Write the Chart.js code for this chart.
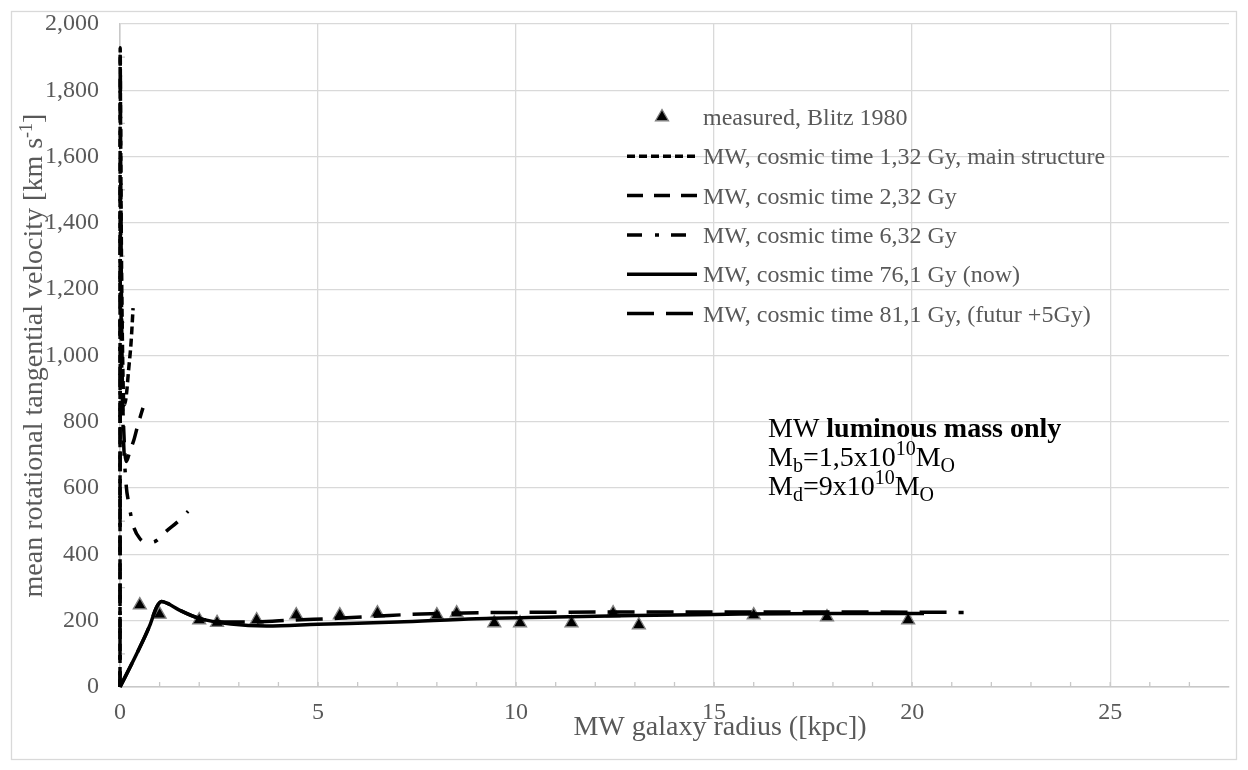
<!DOCTYPE html>
<html>
<head>
<meta charset="utf-8">
<script src="https://cdn.jsdelivr.net/npm/chart.js@4.4.1/dist/chart.umd.min.js"></script>
<style>
    html, body { margin: 0; padding: 0; background: #fff; }
    canvas { display: block; }
</style>
</head>
<body>
<canvas id="rotChart" width="1248" height="770"></canvas>
<script>
// Series names (legend order)
const seriesNames = [
    'measured, Blitz 1980',
    'MW, cosmic time 1,32 Gy, main structure',
    'MW, cosmic time 2,32 Gy',
    'MW, cosmic time 6,32 Gy',
    'MW, cosmic time 76,1 Gy (now)',
    'MW, cosmic time 81,1 Gy, (futur +5Gy)'
];

// measured points (kpc, km/s)
const measuredR = [0.5, 1.0, 2.0, 2.45, 3.45, 4.45, 5.55, 6.5, 8.0, 8.5, 9.45, 10.1, 11.4, 12.45, 13.1, 16.0, 17.85, 19.9];
const measuredV = [247, 219, 202, 194, 202, 217, 217, 223, 217, 223, 193, 193, 193, 223, 187, 217, 211, 202];

// model curves
const t132R = [0, 0.004, 0.012, 0.03, 0.06, 0.1, 0.15, 0.22, 0.28, 0.33];
const t132V = [0, 1928, 1750, 1400, 1050, 850, 870, 960, 1040, 1143];

const t232R = [0, 0.006, 0.02, 0.05, 0.1, 0.16, 0.25, 0.35, 0.45, 0.58];
const t232V = [0, 1900, 1500, 1000, 760, 680, 712, 745, 790, 842];

const t632R = [0, 0.01, 0.03, 0.07, 0.15, 0.22, 0.33, 0.5, 0.7, 0.9, 1.14, 1.47, 1.72];
const t632V = [0, 1500, 1100, 820, 618, 555, 489, 448, 436, 440, 467, 500, 530];

const nowR = [0, 0.4, 0.75, 0.92, 1.05, 1.2, 1.5, 2.0, 2.8, 3.7, 5.0, 7.0, 9.0, 11.0, 13.0, 15.0, 18.0, 20.3];
const nowV = [0, 95, 185, 240, 258, 252, 232, 207, 190, 184, 189, 196, 206, 211, 216, 219, 222, 222];

const futR = [0, 0.4, 0.75, 0.92, 1.05, 1.2, 1.5, 2.0, 2.5, 3.3, 4.4, 5.6, 6.8, 8.1, 10, 13, 16, 19, 21.3];
const futV = [0, 95, 185, 240, 258, 252, 232, 207, 197, 196, 202, 208, 216, 222, 225, 226, 226, 226, 225];

// axis ticks
const xTickStep = 5;
const yTickStep = 200;

const FONT = "'Liberation Serif', 'Times New Roman', serif";
const GREY_TEXT = '#595959';

const pts = (xs, ys) => xs.map((x, i) => ({ x: x, y: ys[i] }));

function lineSet(label, xs, ys, dash) {
    return {
        label: label,
        data: pts(xs, ys),
        borderColor: '#000',
        backgroundColor: '#000',
        borderWidth: 3.5,
        borderDash: dash,
        pointRadius: 0,
        cubicInterpolationMode: 'monotone',
        fill: false,
        clip: 5,
        order: 0
    };
}

function richText(ctx, x, y, parts, align) {
    let w = 0;
    parts.forEach(p => {
        ctx.font = (p[2] ? 'bold ' : '') + p[1] + 'px ' + FONT;
        w += ctx.measureText(p[0]).width;
    });
    let cx = align === 'center' ? x - w / 2 : x;
    parts.forEach(p => {
        ctx.font = (p[2] ? 'bold ' : '') + p[1] + 'px ' + FONT;
        ctx.fillText(p[0], cx, y + (p[3] || 0));
        cx += ctx.measureText(p[0]).width;
    });
}

const overlay = {
    id: 'overlay',
    beforeDraw(chart) {
        const c = chart.ctx;
        c.save();
        c.strokeStyle = '#d9d9d9';
        c.lineWidth = 1.3;
        c.strokeRect(11.5, 11.5, 1225, 748);
        c.restore();
    },
    beforeDatasetsDraw(chart) {
        // minor ticks inside the plot
        const c = chart.ctx;
        const xs = chart.scales.x, ys = chart.scales.y;
        c.save();
        c.strokeStyle = '#c8c8c8';
        c.lineWidth = 1.3;
        c.beginPath();
        for (let v = 1; v < xs.max; v++) {
            const px = xs.getPixelForValue(v);
            c.moveTo(px, ys.bottom);
            c.lineTo(px, ys.bottom - 5);
        }
        for (let v = 100; v < ys.max; v += 200) {
            const py = ys.getPixelForValue(v);
            c.moveTo(xs.left, py);
            c.lineTo(xs.left + 5, py);
        }
        c.stroke();
        c.restore();
    },
    afterDraw(chart) {
        const c = chart.ctx;
        const area = chart.chartArea;
        c.save();

        // axis titles
        c.fillStyle = GREY_TEXT;
        c.textBaseline = 'alphabetic';
        richText(c, 720, 735, [['MW galaxy radius ([kpc])', 28]], 'center');
        c.save();
        c.translate(42, (area.top + area.bottom) / 2);
        c.rotate(-Math.PI / 2);
        richText(c, 0, 0, [
            ['mean rotational tangential velocity [km s', 28],
            ['-1', 18, false, -10],
            [']', 28]
        ], 'center');
        c.restore();

        // legend
        const ds = chart.data.datasets;
        for (let i = 0; i < ds.length; i++) {
            const y = 117 + i * 39.3;
            if (i === 0) {
                c.beginPath();
                c.moveTo(662, y - 7.5);
                c.lineTo(668.5, y + 3.75);
                c.lineTo(655.5, y + 3.75);
                c.closePath();
                c.fillStyle = '#000';
                c.fill();
                c.strokeStyle = '#7f7f7f';
                c.lineWidth = 1.3;
                c.stroke();
            } else {
                c.beginPath();
                c.setLineDash(ds[i].borderDash || []);
                c.strokeStyle = '#000';
                c.lineWidth = 3.5;
                c.moveTo(627, y);
                c.lineTo(697, y);
                c.stroke();
                c.setLineDash([]);
            }
            c.fillStyle = GREY_TEXT;
            c.font = '24px ' + FONT;
            c.fillText(ds[i].label, 703, y + 8);
        }

        // annotation
        c.fillStyle = '#000';
        richText(c, 768, 437, [['MW ', 28], ['luminous mass only', 28, true]]);
        richText(c, 768, 466, [['M', 28], ['b', 20, false, 6], ['=1,5x10', 28], ['10', 20, false, -11], ['M', 28], ['O', 20, false, 6]]);
        richText(c, 768, 495, [['M', 28], ['d', 20, false, 6], ['=9x10', 28], ['10', 20, false, -11], ['M', 28], ['O', 20, false, 6]]);

        c.restore();
    }
};

const ctx = document.getElementById('rotChart').getContext('2d');
const rotChart = new Chart(ctx, {
    type: 'line',
    data: {
        datasets: [
            {
                label: seriesNames[0],
                data: pts(measuredR, measuredV),
                showLine: false,
                pointStyle: 'triangle',
                pointRadius: 7.5,
                pointBackgroundColor: '#000',
                pointBorderColor: '#7f7f7f',
                pointBorderWidth: 1.3,
                order: 1
            },
            lineSet(seriesNames[1], t132R, t132V, [8, 4]),
            lineSet(seriesNames[2], t232R, t232V, [16, 11]),
            lineSet(seriesNames[3], t632R, t632V, [15, 13, 4, 12]),
            lineSet(seriesNames[4], nowR, nowV, []),
            lineSet(seriesNames[5], futR, futV, [27, 12])
        ]
    },
    options: {
        responsive: false,
        devicePixelRatio: 1,
        animation: false,
        events: [],
        locale: 'en-US',
        layout: { autoPadding: false, padding: { top: 24, right: 19, left: 0, bottom: 0 } },
        plugins: {
            legend: { display: false },
            tooltip: { enabled: false }
        },
        scales: {
            x: {
                type: 'linear',
                min: 0,
                max: 28,
                ticks: {
                    stepSize: xTickStep,
                    includeBounds: false,
                    padding: 0,
                    maxRotation: 0,
                    color: GREY_TEXT,
                    font: { family: FONT, size: 24 }
                },
                grid: { color: '#d9d9d9', lineWidth: 1.3, drawTicks: true, tickLength: 11, tickColor: 'rgba(0,0,0,0)' },
                border: { color: '#c8c8c8', width: 1.5 },
                afterFit(s) { s.height = 83; }
            },
            y: {
                min: 0,
                max: 2000,
                ticks: {
                    stepSize: yTickStep,
                    padding: 0,
                    color: GREY_TEXT,
                    font: { family: FONT, size: 24 }
                },
                grid: { color: '#d9d9d9', lineWidth: 1.3, drawTicks: true, tickLength: 21, tickColor: 'rgba(0,0,0,0)' },
                border: { color: '#c8c8c8', width: 1.5 },
                afterFit(s) { s.width = 120; }
            }
        }
    },
    plugins: [overlay]
});
</script>
</body>
</html>
